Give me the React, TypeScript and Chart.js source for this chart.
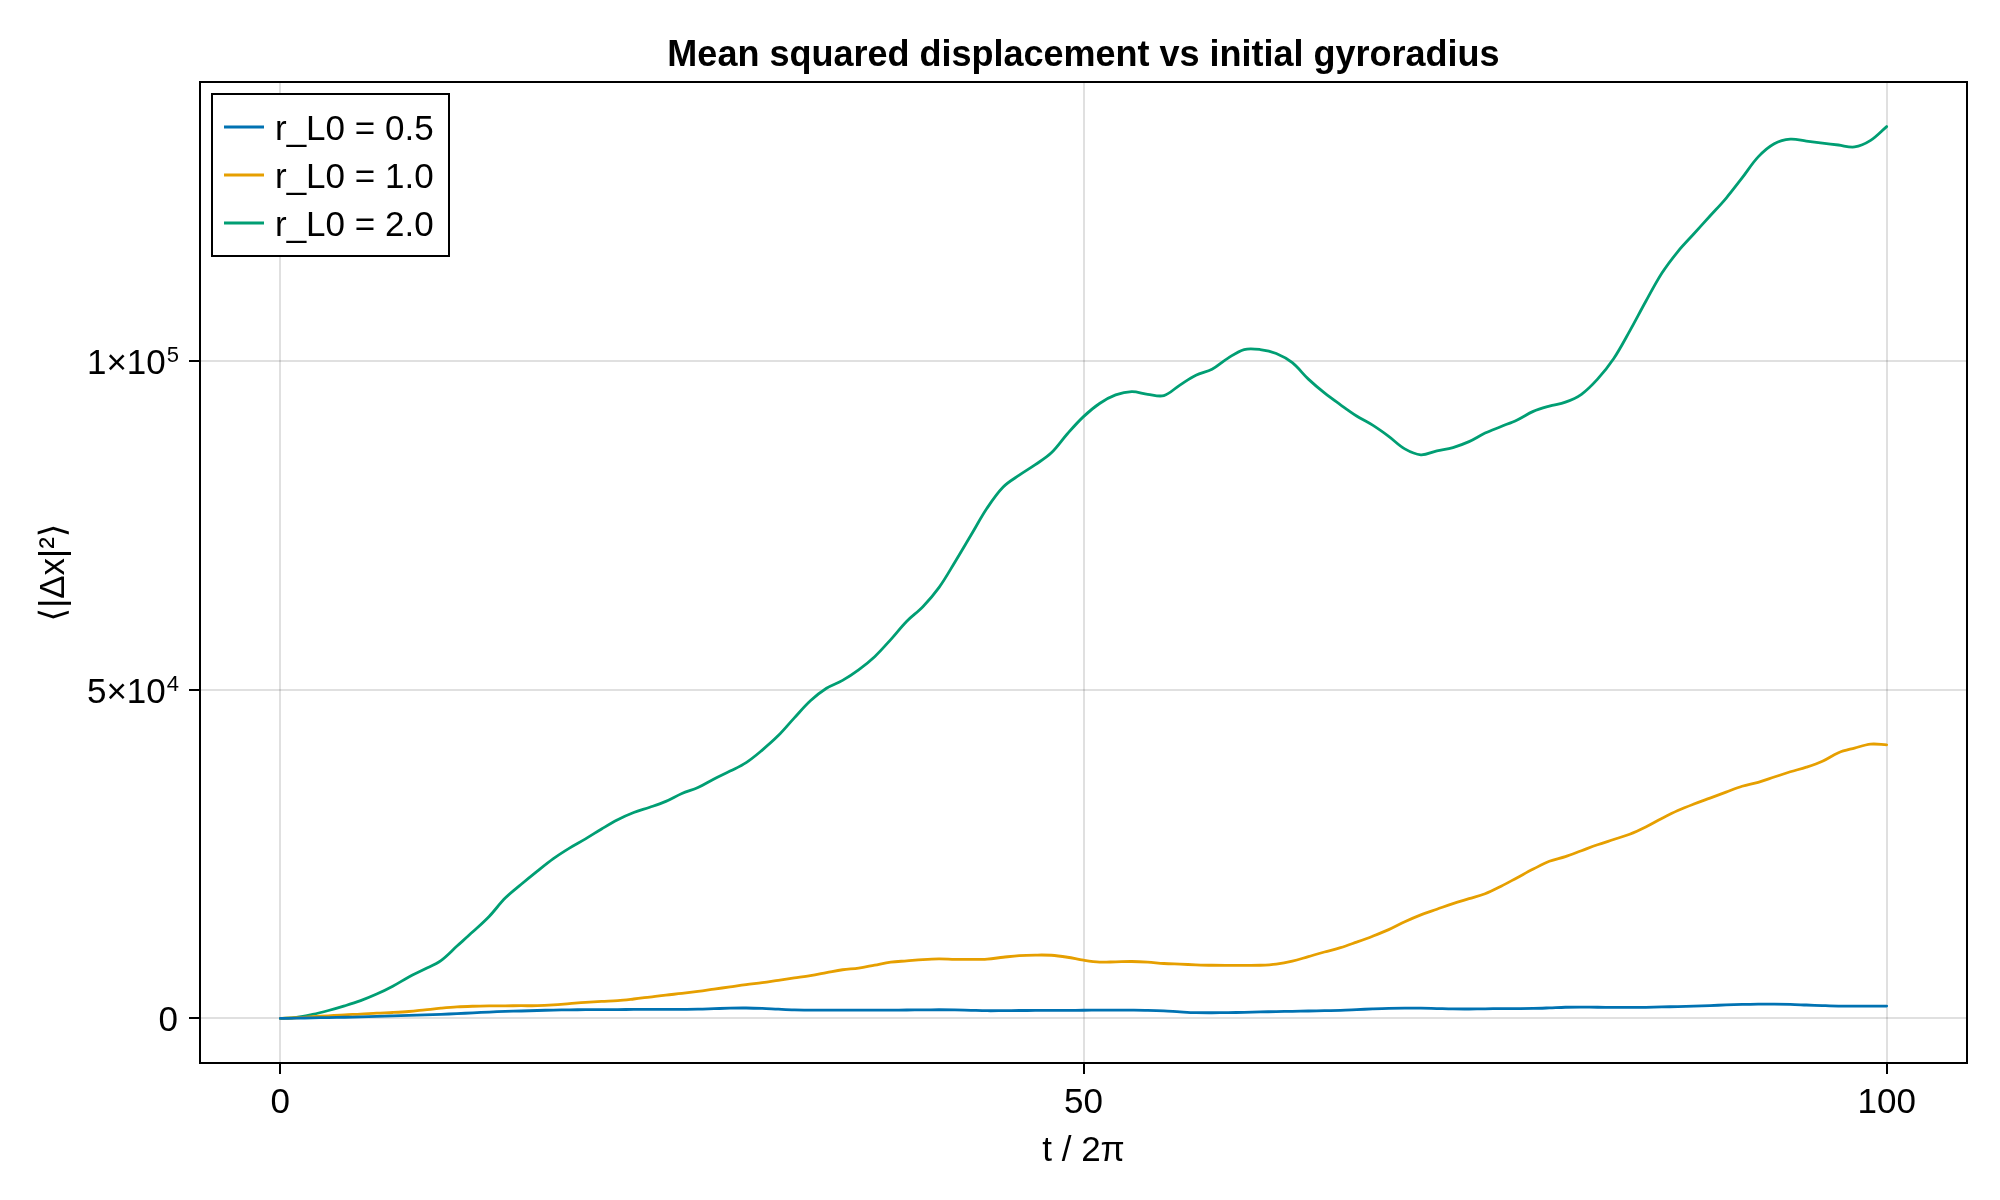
import React, { useEffect, useRef } from 'react';
import { Chart, registerables } from 'chart.js';

Chart.register(...registerables);

const chartTitle = 'Mean squared displacement vs initial gyroradius';
const xAxisLabel = 't / 2π';
const yAxisLabel = '⟨|Δx|²⟩';

const seriesLabels = ['r_L0 = 0.5', 'r_L0 = 1.0', 'r_L0 = 2.0'];
const seriesColors = ['#0072B2', '#E69F00', '#009E73'];

const xTickValues = [0, 50, 100];
const yTickValues = [0, 50000, 100000];

const timeValues = [
  0, 1, 2, 3, 4, 5, 6, 7, 8, 9, 10, 11, 12, 13, 14, 15, 16, 17, 18, 19, 20,
  21, 22, 23, 24, 25, 26, 27, 28, 29, 30, 31, 32, 33, 34, 35, 36, 37, 38, 39, 40,
  41, 42, 43, 44, 45, 46, 47, 48, 49, 50, 51, 52, 53, 54, 55, 56, 57, 58, 59, 60,
  61, 62, 63, 64, 65, 66, 67, 68, 69, 70, 71, 72, 73, 74, 75, 76, 77, 78, 79, 80,
  81, 82, 83, 84, 85, 86, 87, 88, 89, 90, 91, 92, 93, 94, 95, 96, 97, 98, 99, 100,
];

const msdR05 = [
  0, 40, 80, 130, 180, 230, 300, 380, 450, 530, 620,
  720, 850, 970, 1060, 1130, 1200, 1270, 1300, 1330, 1340,
  1350, 1360, 1370, 1370, 1370, 1400, 1480, 1560, 1580, 1520,
  1400, 1300, 1270, 1270, 1270, 1270, 1270, 1270, 1280, 1300,
  1320, 1300, 1230, 1170, 1180, 1200, 1210, 1220, 1230, 1240,
  1260, 1270, 1260, 1230, 1150, 1000, 880, 860, 880, 920,
  980, 1040, 1080, 1130, 1180, 1220, 1330, 1450, 1540, 1570,
  1560, 1500, 1440, 1430, 1460, 1500, 1500, 1520, 1600, 1700,
  1720, 1700, 1680, 1670, 1690, 1740, 1800, 1860, 1950, 2050,
  2120, 2160, 2170, 2130, 2040, 1950, 1880, 1870, 1870, 1870,
];

const msdR10 = [
  0, 100, 250, 400, 550, 650, 800, 900, 1050, 1300, 1550,
  1750, 1850, 1900, 1920, 1930, 1930, 2050, 2250, 2450, 2600,
  2700, 2950, 3250, 3550, 3800, 4100, 4450, 4800, 5150, 5450,
  5800, 6150, 6500, 6950, 7400, 7650, 8100, 8550, 8750, 8950,
  9050, 8980, 8970, 9020, 9300, 9550, 9630, 9600, 9300, 8850,
  8560, 8600, 8650, 8550, 8350, 8250, 8150, 8080, 8060, 8060,
  8080, 8250, 8700, 9400, 10100, 10750, 11600, 12500, 13500, 14700,
  15750, 16600, 17450, 18200, 18950, 20100, 21400, 22700, 23900, 24600,
  25500, 26400, 27200, 28000, 29100, 30400, 31600, 32600, 33500, 34400,
  35300, 35900, 36700, 37500, 38200, 39100, 40400, 41100, 41700, 41600,
];

const msdR20 = [
  0, 150, 600, 1200, 1900, 2700, 3700, 4900, 6300, 7500, 8800,
  11000, 13200, 15500, 18300, 20400, 22400, 24300, 25900, 27300, 28800,
  30200, 31300, 32100, 33000, 34200, 35100, 36400, 37600, 38900, 40800,
  43000, 45700, 48300, 50200, 51400, 53000, 55000, 57600, 60400, 62600,
  65500, 69400, 73500, 77600, 80800, 82600, 84200, 86000, 88900, 91500,
  93500, 94800, 95300, 94900, 94700, 96300, 97800, 98700, 100400, 101700,
  101700, 101100, 99700, 97200, 95100, 93300, 91600, 90200, 88500, 86600,
  85700, 86300, 86800, 87700, 89000, 90000, 91000, 92300, 93100, 93700,
  94900, 97200, 100300, 104500, 109000, 113300, 116600, 119300, 122000, 124700,
  127800, 131000, 133000, 133700, 133400, 133100, 132800, 132500, 133500, 135600,
];

const seriesValues = [msdR05, msdR10, msdR20];

const FONT = '"Liberation Sans", Arial, Helvetica, "DejaVu Sans", sans-serif';

const decorPlugin = {
  id: 'decor',
  afterDraw(chart: any) {
    const ctx = chart.ctx as CanvasRenderingContext2D;
    const a = chart.chartArea;
    ctx.save();

    // frame
    ctx.strokeStyle = '#000';
    ctx.lineWidth = 2;
    ctx.strokeRect(a.left, a.top, a.right - a.left, a.bottom - a.top);

    // title
    ctx.fillStyle = '#000';
    ctx.font = `bold 36px ${FONT}`;
    ctx.textAlign = 'center';
    ctx.textBaseline = 'alphabetic';
    ctx.fillText(chartTitle, (a.left + a.right) / 2, 66);

    // x axis label
    ctx.font = `35px ${FONT}`;
    ctx.fillText(xAxisLabel, (a.left + a.right) / 2, 1161);

    // y axis label
    ctx.save();
    ctx.translate(54, (a.top + a.bottom) / 2);
    ctx.rotate(-Math.PI / 2);
    ctx.textAlign = 'center';
    ctx.textBaseline = 'middle';
    ctx.font = `35px ${FONT}`;
    ctx.fillText(yAxisLabel, 0, 0);
    ctx.restore();

    // y tick labels with superscript exponents
    const ys = chart.scales.y;
    const rightEdge = a.left - 22;
    yTickValues.forEach((v) => {
      const py = ys.getPixelForValue(v);
      ctx.textBaseline = 'alphabetic';
      ctx.textAlign = 'left';
      if (v === 0) {
        ctx.font = `35px ${FONT}`;
        const w = ctx.measureText('0').width;
        ctx.fillText('0', rightEdge - w, py + 12.5);
        return;
      }
      const exp = Math.floor(Math.log10(v));
      const mant = Math.round(v / Math.pow(10, exp));
      const main = `${mant}×10`;
      const sup = `${exp}`;
      ctx.font = `35px ${FONT}`;
      const wMain = ctx.measureText(main).width;
      ctx.font = `22px ${FONT}`;
      const wSup = ctx.measureText(sup).width;
      const start = rightEdge - wMain - wSup;
      ctx.font = `35px ${FONT}`;
      ctx.fillText(main, start, py + 13);
      ctx.font = `22px ${FONT}`;
      ctx.fillText(sup, start + wMain + 1, py + 1);
    });

    // legend
    const lx = a.left + 12;
    const ly = a.top + 12;
    const lw = 237;
    const lh = 162;
    ctx.fillStyle = '#fff';
    ctx.fillRect(lx, ly, lw, lh);
    ctx.strokeStyle = '#000';
    ctx.lineWidth = 2;
    ctx.strokeRect(lx, ly, lw, lh);
    chart.data.datasets.forEach((ds: any, i: number) => {
      const rowY = ly + 33 + i * 48;
      ctx.strokeStyle = ds.borderColor;
      ctx.lineWidth = 3;
      ctx.beginPath();
      ctx.moveTo(lx + 12, rowY);
      ctx.lineTo(lx + 52, rowY);
      ctx.stroke();
      ctx.fillStyle = '#000';
      ctx.font = `35px ${FONT}`;
      ctx.textAlign = 'left';
      ctx.textBaseline = 'alphabetic';
      ctx.fillText(ds.label, lx + 63, rowY + 12.5);
    });

    ctx.restore();
  },
};

export default function App() {
  const canvasRef = useRef<HTMLCanvasElement | null>(null);

  useEffect(() => {
    document.body.style.margin = '0';
    const canvas = canvasRef.current;
    if (!canvas) return;

    const datasets = seriesValues.map((vals, i) => ({
      label: seriesLabels[i],
      data: vals.map((v, j) => ({ x: timeValues[j], y: v })),
      borderColor: seriesColors[i],
      backgroundColor: seriesColors[i],
      borderWidth: 2.8,
      pointRadius: 0,
      tension: 0.35,
      fill: false,
      borderJoinStyle: 'round' as const,
      borderCapStyle: 'round' as const,
    }));

    const gridCommon = {
      color: 'rgba(0,0,0,0.12)',
      lineWidth: 2,
      drawTicks: true,
      tickLength: 11,
      tickColor: '#000',
      tickWidth: 2,
    };

    const chart = new Chart(canvas, {
      type: 'line',
      data: { datasets },
      plugins: [decorPlugin],
      options: {
        animation: false,
        responsive: false,
        devicePixelRatio: 1,
        layout: { padding: { top: 82, right: 33, bottom: 0, left: 0 } },
        plugins: {
          legend: { display: false },
          title: { display: false },
          tooltip: { enabled: false },
        },
        scales: {
          x: {
            type: 'linear',
            min: -5,
            max: 105,
            border: { display: false },
            grid: gridCommon,
            afterBuildTicks: (scale: any) => {
              scale.ticks = xTickValues.map((v) => ({ value: v }));
            },
            afterFit: (scale: any) => {
              scale.height = 137;
            },
            ticks: {
              autoSkip: false,
              maxRotation: 0,
              color: '#000',
              padding: 8,
              font: { family: FONT, size: 35 },
              callback: (v: any) => String(v),
            },
          },
          y: {
            type: 'linear',
            min: -6780,
            max: 142380,
            border: { display: false },
            grid: gridCommon,
            afterBuildTicks: (scale: any) => {
              scale.ticks = yTickValues.map((v) => ({ value: v }));
            },
            afterFit: (scale: any) => {
              scale.width = 200;
            },
            ticks: {
              autoSkip: false,
              padding: 0,
              callback: () => '',
            },
          },
        },
      },
    });

    return () => {
      chart.destroy();
    };
  }, []);

  return (
    <div style={{ width: 2000, height: 1200, background: '#fff' }}>
      <canvas ref={canvasRef} width={2000} height={1200} style={{ width: 2000, height: 1200, display: 'block' }} />
    </div>
  );
}
